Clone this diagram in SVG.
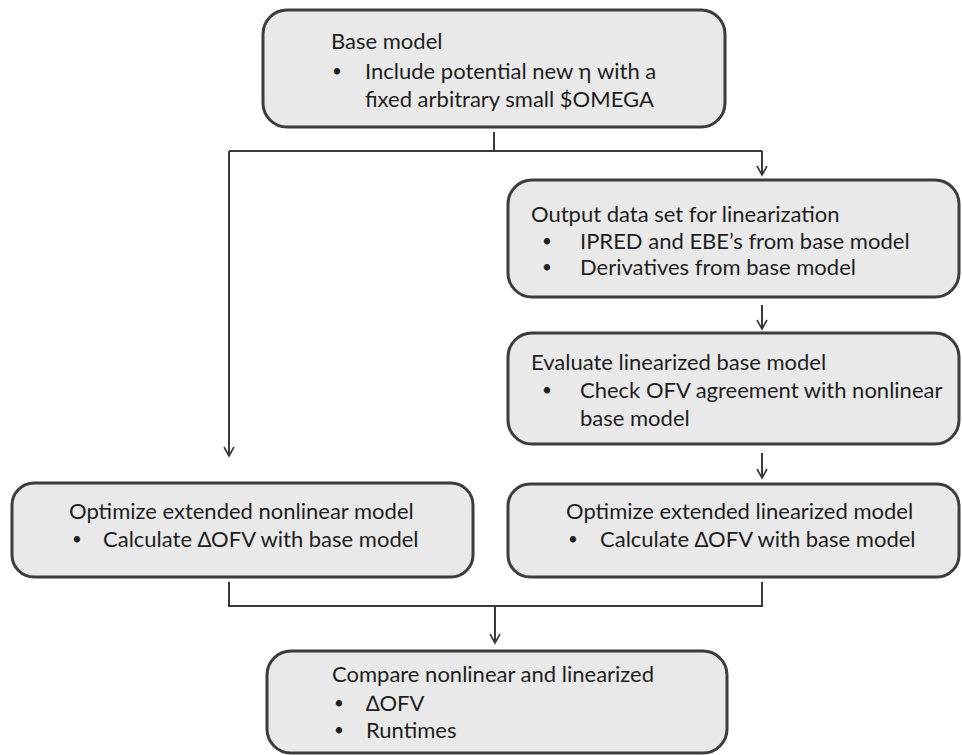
<svg xmlns="http://www.w3.org/2000/svg" width="962" height="755" viewBox="0 0 962 755">
<defs>
<marker id="arr" markerUnits="userSpaceOnUse" markerWidth="14" markerHeight="14" viewBox="0 0 14 14" refX="12" refY="7" orient="auto">
<path d="M3,2 L12,7 L3,12" fill="none" stroke="#3a3a3a" stroke-width="1.6"/>
</marker>
</defs>
<style>
.box{fill:#e8e9e8;stroke:#3d3d3d;stroke-width:3}
.t{font-family:Lato,"Liberation Sans",sans-serif;font-size:22px;fill:#1e1e1e}
.b{font-family:Lato,"Liberation Sans",sans-serif;font-size:17px;fill:#1e1e1e}
.c{fill:none;stroke:#3a3a3a;stroke-width:2}
</style>
<rect width="962" height="755" fill="#ffffff"/>
<g id="connectors">
<path class="c" d="M494,132 V151"/>
<path class="c" d="M229,151 H762"/>
<path class="c" d="M229,151 V456" marker-end="url(#arr)"/>
<path class="c" d="M762,151 V175" marker-end="url(#arr)"/>
<path class="c" d="M762,305 V329" marker-end="url(#arr)"/>
<path class="c" d="M762,453 V478" marker-end="url(#arr)"/>
<path class="c" d="M229,582 V606 H762 V582"/>
<path class="c" d="M495,606 V643" marker-end="url(#arr)"/>
</g>
<g id="base">
<rect class="box" x="263" y="10" width="462" height="117" rx="24"/>
<text class="t" x="331" y="49">Base model</text>
<text class="b" x="332" y="77">•</text>
<text class="t" x="365" y="79">Include potential new η with a</text>
<text class="t" x="365" y="107">fixed arbitrary small $OMEGA</text>
</g>
<g id="output">
<rect class="box" x="508" y="180" width="451" height="117" rx="24"/>
<text class="t" x="531" y="222">Output data set for linearization</text>
<text class="b" x="542" y="247">•</text>
<text class="t" x="580" y="249">IPRED and EBE’s from base model</text>
<text class="b" x="542" y="273">•</text>
<text class="t" x="580" y="275">Derivatives from base model</text>
</g>
<g id="evaluate">
<rect class="box" x="508" y="333" width="451" height="111" rx="24"/>
<text class="t" x="531" y="370">Evaluate linearized base model</text>
<text class="b" x="542" y="396">•</text>
<text class="t" x="580" y="398">Check OFV agreement with nonlinear</text>
<text class="t" x="580" y="426">base model</text>
</g>
<g id="opt-nonlinear">
<rect class="box" x="12" y="483" width="461" height="94" rx="22"/>
<text class="t" x="69" y="519">Optimize extended nonlinear model</text>
<text class="b" x="72" y="545">•</text>
<text class="t" x="103" y="547">Calculate ∆OFV with base model</text>
</g>
<g id="opt-linearized">
<rect class="box" x="508" y="484" width="451" height="93" rx="22"/>
<text class="t" x="566" y="519">Optimize extended linearized model</text>
<text class="b" x="568" y="545">•</text>
<text class="t" x="600" y="547">Calculate ∆OFV with base model</text>
</g>
<g id="compare">
<rect class="box" x="267" y="651" width="460" height="102" rx="24"/>
<text class="t" x="332" y="682">Compare nonlinear and linearized</text>
<text class="b" x="334" y="709">•</text>
<text class="t" x="366" y="711">∆OFV</text>
<text class="b" x="334" y="736">•</text>
<text class="t" x="366" y="738">Runtimes</text>
</g>
</svg>
